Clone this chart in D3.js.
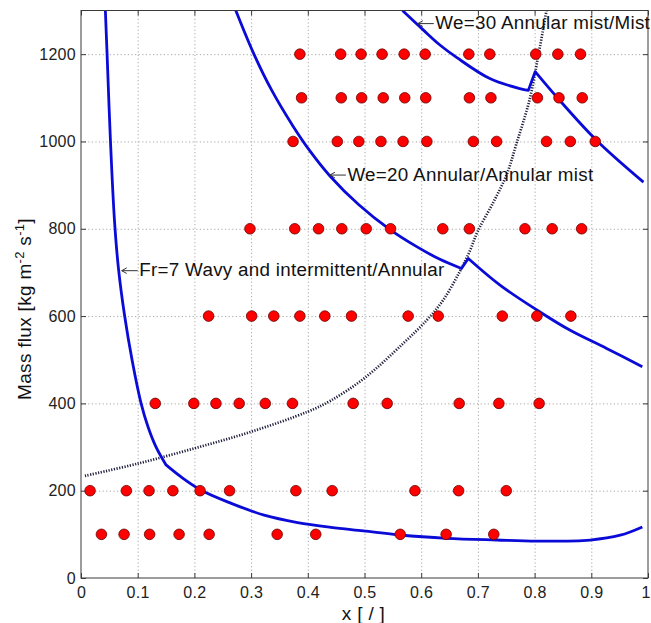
<!DOCTYPE html>
<html>
<head>
<meta charset="utf-8">
<script src="https://cdn.jsdelivr.net/npm/d3@7"></script>
<style>
  body { margin: 0; background: #fff; }
  text { font-family: "Liberation Sans", Arial, Helvetica, sans-serif; }
</style>
</head>
<body>
<div id="chart"></div>
<script>
// Test points: vapour quality x at each mass flux level G [kg m^-2 s^-1]
const massFluxLevels = [100, 200, 400, 600, 800, 1000, 1100, 1200];
const qualityAt100  = [0.036, 0.076, 0.121, 0.173, 0.226, 0.346, 0.414, 0.563, 0.644, 0.728];
const qualityAt200  = [0.016, 0.080, 0.120, 0.162, 0.210, 0.262, 0.379, 0.443, 0.589, 0.666, 0.750];
const qualityAt400  = [0.131, 0.199, 0.238, 0.279, 0.325, 0.373, 0.480, 0.540, 0.667, 0.737, 0.808];
const qualityAt600  = [0.225, 0.301, 0.340, 0.386, 0.430, 0.477, 0.577, 0.630, 0.743, 0.804, 0.864];
const qualityAt800  = [0.298, 0.377, 0.419, 0.460, 0.503, 0.546, 0.638, 0.685, 0.783, 0.831, 0.883];
const qualityAt1000 = [0.374, 0.452, 0.490, 0.529, 0.568, 0.610, 0.692, 0.733, 0.821, 0.863, 0.907];
const qualityAt1100 = [0.389, 0.459, 0.495, 0.533, 0.571, 0.608, 0.685, 0.723, 0.805, 0.843, 0.884];
const qualityAt1200 = [0.386, 0.458, 0.494, 0.531, 0.570, 0.607, 0.684, 0.721, 0.802, 0.841, 0.881];
const qualityByLevel = [qualityAt100, qualityAt200, qualityAt400, qualityAt600,
                        qualityAt800, qualityAt1000, qualityAt1100, qualityAt1200];

// Transition boundaries as [x, G] pairs, split at their kinks
const froude7Upper = [
  [0.043, 1300], [0.046, 1200], [0.052, 1000], [0.059, 820], [0.066, 710], [0.077, 600],
  [0.090, 500], [0.106, 400], [0.118, 347], [0.132, 301], [0.150, 259]
];
const froude7Lower = [
  [0.150, 259], [0.176, 232], [0.212, 201], [0.265, 171], [0.323, 144], [0.382, 127],
  [0.441, 116], [0.498, 108], [0.563, 98.5], [0.645, 91], [0.733, 87], [0.804, 84.5],
  [0.898, 87], [0.951, 98], [0.990, 117]
];
const weber20Upper = [
  [0.273, 1300], [0.305, 1200], [0.336, 1118], [0.374, 1035], [0.405, 976], [0.439, 921],
  [0.490, 855], [0.545, 798], [0.592, 759], [0.633, 730], [0.671, 709]
];
const weber20Lower = [
  [0.683, 732], [0.739, 671], [0.804, 614], [0.862, 568], [0.927, 526], [0.990, 484]
];
const weber30Upper = [
  [0.567, 1300], [0.604, 1255], [0.633, 1221], [0.663, 1192], [0.721, 1144], [0.774, 1121],
  [0.789, 1117]
];
const weber30Lower = [
  [0.801, 1160], [0.839, 1102], [0.909, 1003], [0.992, 907]
];
const dottedLine = [
  [0.007, 234], [0.10, 262], [0.20, 297], [0.30, 335], [0.40, 381], [0.44, 406], [0.50, 458],
  [0.568, 537], [0.61, 591], [0.639, 637], [0.668, 702], [0.686, 750], [0.70, 795],
  [0.727, 860], [0.751, 925], [0.768, 995], [0.791, 1095], [0.807, 1200], [0.821, 1300]
];

// Boundary labels, anchored at the arrow tip (x, G)
const labelTexts = ["Fr=7 Wavy and intermittent/Annular", "We=20 Annular/Annular mist", "We=30 Annular mist/Mist"];
const labelAnchorX = [0.0718, 0.439, 0.594];
const labelAnchorG = [704, 923, 1270];

// Axis ticks
const xTicks = [0, 0.1, 0.2, 0.3, 0.4, 0.5, 0.6, 0.7, 0.8, 0.9, 1];
const xTickLabels = ["0", "0.1", "0.2", "0.3", "0.4", "0.5", "0.6", "0.7", "0.8", "0.9", "1"];
const yTicks = [0, 200, 400, 600, 800, 1000, 1200];

const W = 651, H = 623;
const plotLeft = 81, plotRight = 648, plotTop = 10.5, plotBottom = 578;

const svg = d3.select("#chart").append("svg").attr("width", W).attr("height", H);

const x = d3.scaleLinear().domain([0, 1]).range([plotLeft, plotRight]);
const y = d3.scaleLinear().domain([0, 1300]).range([plotBottom, plotTop]);

svg.append("defs").append("clipPath").attr("id", "plotArea")
  .append("rect").attr("x", plotLeft).attr("y", plotTop)
  .attr("width", plotRight - plotLeft).attr("height", plotBottom - plotTop);

// Dotted grid
const grid = svg.append("g");
grid.append("g").attr("transform", `translate(0,${plotBottom})`)
  .call(d3.axisBottom(x).tickValues(xTicks.slice(1, -1)).tickSize(-(plotBottom - plotTop)).tickFormat(""))
  .call(g => g.select(".domain").remove());
grid.append("g").attr("transform", `translate(${plotLeft},0)`)
  .call(d3.axisLeft(y).tickValues(yTicks.slice(1)).tickSize(-(plotRight - plotLeft)).tickFormat(""))
  .call(g => g.select(".domain").remove());
grid.selectAll("line").attr("stroke", "#a8a8a8").attr("stroke-width", 1).attr("stroke-dasharray", "1.2,2.4");

const plot = svg.append("g").attr("clip-path", "url(#plotArea)");
const line = d3.line().x(d => x(d[0])).y(d => y(d[1])).curve(d3.curveCatmullRom.alpha(0.5));
// smooth pieces joined by straight segments at the kinks
const joined = pieces => pieces.map((p, i) => i === 0 ? line(p) : line(p).replace(/^M/, "L")).join("");

plot.append("path").attr("d", line(dottedLine))
  .attr("fill", "none").attr("stroke", "#1e1e3c").attr("stroke-width", 2.7)
  .attr("stroke-dasharray", "1.2,1.5");

[[froude7Upper, froude7Lower], [weber20Upper, weber20Lower], [weber30Upper, weber30Lower]].forEach(pieces => {
  plot.append("path").attr("d", joined(pieces))
    .attr("fill", "none").attr("stroke", "#0b0bd8").attr("stroke-width", 2.8)
    .attr("stroke-linejoin", "round");
});

// Test points
const points = massFluxLevels.flatMap((G, i) => qualityByLevel[i].map(q => ({ q, G })));
plot.selectAll("circle").data(points).join("circle")
  .attr("cx", d => x(d.q)).attr("cy", d => y(d.G)).attr("r", 5.3)
  .attr("fill", "#ff0000").attr("stroke", "#6a0000").attr("stroke-width", 0.8);

// Frame and inward ticks on all four sides
svg.append("rect").attr("x", plotLeft).attr("y", plotTop)
  .attr("width", plotRight - plotLeft).attr("height", plotBottom - plotTop)
  .attr("fill", "none").attr("stroke", "#3a3a3a").attr("stroke-width", 1);

const axisStyle = g => {
  g.select(".domain").remove();
  g.selectAll(".tick line").attr("stroke", "#3a3a3a");
  g.selectAll("text").attr("fill", "#222").attr("font-size", 16).attr("letter-spacing", "0.3px")
    .attr("font-family", '"Liberation Sans", Arial, sans-serif');
};
svg.append("g").attr("transform", `translate(0,${plotBottom})`)
  .call(d3.axisBottom(x).tickValues(xTicks).tickFormat((d, i) => xTickLabels[i]).tickSize(-5).tickPadding(9))
  .call(axisStyle)
  .call(g => g.selectAll(".tick text").attr("dx", (d, i) => i === xTicks.length - 1 ? -2.5 : 0));
svg.append("g").attr("transform", `translate(0,${plotTop})`)
  .call(d3.axisTop(x).tickValues(xTicks).tickFormat("").tickSize(-5))
  .call(axisStyle);
svg.append("g").attr("transform", `translate(${plotLeft},0)`)
  .call(d3.axisLeft(y).tickValues(yTicks).tickFormat(d3.format("d")).tickSize(-5).tickPadding(5))
  .call(axisStyle);
svg.append("g").attr("transform", `translate(${plotRight},0)`)
  .call(d3.axisRight(y).tickValues(yTicks).tickFormat("").tickSize(-5))
  .call(axisStyle);

// Boundary labels with left-pointing arrows
labelTexts.forEach((t, i) => {
  const ax = x(labelAnchorX[i]), ay = y(labelAnchorG[i]);
  const g = svg.append("g");
  g.append("path")
    .attr("d", `M${ax},${ay} L${ax + 16},${ay} M${ax + 5},${ay - 2.8} L${ax},${ay} L${ax + 5},${ay + 2.8}`)
    .attr("fill", "none").attr("stroke", "#333").attr("stroke-width", 1);
  g.append("text").attr("x", ax + 17.5).attr("y", ay + 5.6)
    .attr("font-size", 18.8).attr("letter-spacing", "0.3px").attr("fill", "#111").text(t);
});

// Axis titles
svg.append("text").attr("x", (plotLeft + plotRight) / 2 - 1).attr("y", 620)
  .attr("text-anchor", "middle").attr("font-size", 19).attr("letter-spacing", "0.3px").attr("fill", "#111")
  .text("x [ / ]");

const yTitle = svg.append("text")
  .attr("transform", "translate(31,309) rotate(-90)")
  .attr("text-anchor", "middle").attr("font-size", 19).attr("letter-spacing", "0.3px").attr("fill", "#111");
yTitle.append("tspan").text("Mass flux [kg m");
yTitle.append("tspan").attr("font-size", 13).attr("dy", -7).text("-2");
yTitle.append("tspan").attr("dy", 7).text(" s");
yTitle.append("tspan").attr("font-size", 13).attr("dy", -7).text("-1");
yTitle.append("tspan").attr("dy", 7).text("]");
</script>
</body>
</html>
